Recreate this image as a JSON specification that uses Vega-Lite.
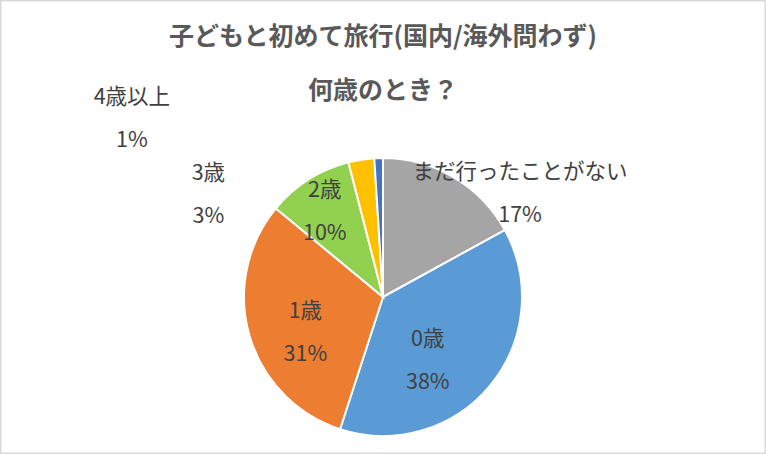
{
  "$schema": "https://vega.github.io/schema/vega-lite/v6.json",
  "width": 766,
  "height": 454,
  "autosize": {"type": "fit", "contains": "padding"},
  "padding": 0,
  "background": "white",
  "view": {"stroke": "#d9d9d9", "strokeWidth": 3},
  "title": {
    "text": ["子どもと初めて旅行(国内/海外問わず)", "何歳のとき？"],
    "font": "Noto Sans CJK JP",
    "fontSize": 25,
    "fontWeight": "bold",
    "color": "#595959",
    "lineHeight": 54,
    "offset": -104,
    "anchor": "middle"
  },
  "data": {
    "values": [
      {"label": "まだ行ったことがない", "value": 17, "order": 1, "labelText": "まだ行ったことがない\n17%"},
      {"label": "0歳", "value": 38, "order": 2, "labelText": "0歳\n38%"},
      {"label": "1歳", "value": 31, "order": 3, "labelText": "1歳\n31%"},
      {"label": "2歳", "value": 10, "order": 4, "labelText": "2歳\n10%"},
      {"label": "3歳", "value": 3, "order": 5, "labelText": "3歳\n3%"},
      {"label": "4歳以上", "value": 1, "order": 6, "labelText": "4歳以上\n1%"}
    ]
  },
  "encoding": {
    "theta": {"field": "value", "type": "quantitative", "stack": true},
    "order": {"field": "order", "type": "quantitative", "sort": "ascending"}
  },
  "layer": [
    {
      "mark": {"type": "arc", "outerRadius": 139, "stroke": "white", "strokeWidth": 2, "yOffset": 70},
      "encoding": {
        "color": {
          "field": "label",
          "type": "nominal",
          "scale": {
            "domain": ["まだ行ったことがない", "0歳", "1歳", "2歳", "3歳", "4歳以上"],
            "range": ["#A5A5A5", "#5B9BD5", "#ED7D31", "#92D050", "#FFC000", "#4472C4"]
          },
          "legend": null
        }
      }
    },
    {
      "mark": {"type": "text", "radius": 120, "dx": 76, "dy": -21, "yOffset": 70, "font": "Noto Sans CJK JP", "fontSize": 21.5, "lineHeight": 43, "lineBreak": "\n", "align": "center", "baseline": "middle"},
      "encoding": {
        "detail": {"field": "label", "type": "nominal"},
        "color": {"value": "#404040"},
        "text": {"condition": {"test": "datum.order === 1", "field": "labelText"}, "value": ""}
      }
    },
    {
      "mark": {"type": "text", "radius": 75, "dx": -13, "dy": -5, "yOffset": 70, "font": "Noto Sans CJK JP", "fontSize": 21.5, "lineHeight": 43, "lineBreak": "\n", "align": "center", "baseline": "middle"},
      "encoding": {
        "detail": {"field": "label", "type": "nominal"},
        "color": {"value": "#404040"},
        "text": {"condition": {"test": "datum.order === 2", "field": "labelText"}, "value": ""}
      }
    },
    {
      "mark": {"type": "text", "radius": 85, "dx": 4, "dy": -9, "yOffset": 70, "font": "Noto Sans CJK JP", "fontSize": 21.5, "lineHeight": 43, "lineBreak": "\n", "align": "center", "baseline": "middle"},
      "encoding": {
        "detail": {"field": "label", "type": "nominal"},
        "color": {"value": "#404040"},
        "text": {"condition": {"test": "datum.order === 3", "field": "labelText"}, "value": ""}
      }
    },
    {
      "mark": {"type": "text", "radius": 103, "dx": -3, "dy": -19, "yOffset": 70, "font": "Noto Sans CJK JP", "fontSize": 21.5, "lineHeight": 43, "lineBreak": "\n", "align": "center", "baseline": "middle"},
      "encoding": {
        "detail": {"field": "label", "type": "nominal"},
        "color": {"value": "#404040"},
        "text": {"condition": {"test": "datum.order === 4", "field": "labelText"}, "value": ""}
      }
    },
    {
      "mark": {"type": "text", "radius": 100, "dx": -159, "dy": -24, "yOffset": 70, "font": "Noto Sans CJK JP", "fontSize": 21.5, "lineHeight": 43, "lineBreak": "\n", "align": "center", "baseline": "middle"},
      "encoding": {
        "detail": {"field": "label", "type": "nominal"},
        "color": {"value": "#404040"},
        "text": {"condition": {"test": "datum.order === 5", "field": "labelText"}, "value": ""}
      }
    },
    {
      "mark": {"type": "text", "radius": 100, "dx": -248, "dy": -99, "yOffset": 70, "font": "Noto Sans CJK JP", "fontSize": 21.5, "lineHeight": 43, "lineBreak": "\n", "align": "center", "baseline": "middle"},
      "encoding": {
        "detail": {"field": "label", "type": "nominal"},
        "color": {"value": "#404040"},
        "text": {"condition": {"test": "datum.order === 6", "field": "labelText"}, "value": ""}
      }
    }
  ]
}
